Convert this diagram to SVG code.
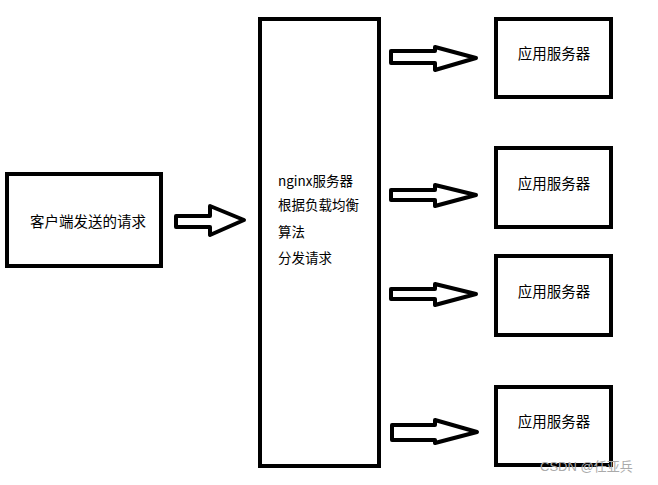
<svg xmlns="http://www.w3.org/2000/svg" width="658" height="485" viewBox="0 0 658 485">
<style>
.box{fill:#fff;stroke:#000;stroke-width:4}
.arr{fill:#fff;stroke:#000;stroke-width:4;stroke-linejoin:round}
.t{font-family:"Noto Sans CJK SC","Noto Sans",sans-serif;font-size:14.5px;fill:#000}
.n{font-family:"Noto Sans CJK SC","Noto Sans",sans-serif;font-size:13.5px;fill:#000}
.wm{font-family:"Liberation Sans","Noto Sans CJK SC",sans-serif;font-size:13px;fill:#aaa}
</style>
<rect width="658" height="485" fill="#fff"/>
<g id="client">
<rect class="box" x="7" y="174" width="154" height="92"/>
<text class="t" x="88" y="227" text-anchor="middle">客户端发送的请求</text>
</g>
<g id="nginx">
<rect class="box" x="260" y="19" width="119" height="447"/>
<text class="n" x="278" y="186">nginx服务器</text>
<text class="n" x="278" y="210">根据负载均衡</text>
<text class="n" x="278" y="237">算法</text>
<text class="n" x="278" y="263">分发请求</text>
</g>
<g id="s1">
<rect class="box" x="496" y="19" width="115" height="78"/>
<text class="t" x="554" y="59" text-anchor="middle">应用服务器</text>
</g>
<g id="s2">
<rect class="box" x="496" y="148" width="115" height="79"/>
<text class="t" x="554" y="189" text-anchor="middle">应用服务器</text>
</g>
<g id="s3">
<rect class="box" x="496" y="256" width="115" height="79"/>
<text class="t" x="554" y="297" text-anchor="middle">应用服务器</text>
</g>
<g id="s4">
<rect class="box" x="496" y="387" width="115" height="78"/>
<text class="t" x="554" y="427" text-anchor="middle">应用服务器</text>
</g>
<g id="connectors">
<polygon class="arr" points="176,216 210,216 210,206 244,220 210,235 210,227 176,227"/>
<polygon class="arr" points="391,51 435,51 435,47 476,58 435,70 435,63 391,63"/>
<polygon class="arr" points="391,190 435,190 435,185 476,195 435,206 435,200 391,200"/>
<polygon class="arr" points="391,289 435,289 435,284 476,294 435,305 435,299 391,299"/>
<polygon class="arr" points="392,425 435,425 435,420 477,432 435,443 435,440 392,440"/>
</g>
<text class="wm" x="540" y="471">CSDN @任亚兵</text>
</svg>
